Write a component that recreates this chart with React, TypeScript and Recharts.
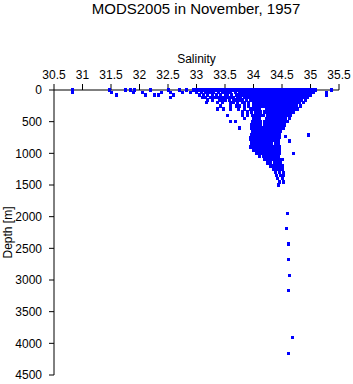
import React from 'react';
import { Scatter, ScatterChart, XAxis, YAxis } from 'recharts';

const TITLE = 'MODS2005 in November, 1957';

const SALINITY_TICKS = [30.5, 31, 31.5, 32, 32.5, 33, 33.5, 34, 34.5, 35, 35.5];
const DEPTH_TICKS = [0, 500, 1000, 1500, 2000, 2500, 3000, 3500, 4000, 4500];

// bottle depths of the upper cloud, one salinity list per depth
const DEPTH_LEVELS = [
  0, 40, 80, 120, 160, 200, 250, 300, 350, 400, 450, 500, 550, 600, 650, 700,
  750, 800, 850, 900, 950, 1000, 1050, 1100, 1150, 1200, 1250, 1300, 1350,
  1400, 1450, 1500,
];

const SALINITY_ROWS = [
  [30.82, 31.48, 31.75, 31.85, 31.92, 32.2, 32.51, 32.71, 32.83, 32.95, 33.0, 33.05, 33.1, 33.15, 33.2, 33.25, 33.3, 33.35, 33.4, 33.45, 33.5, 33.55, 33.6, 33.65, 33.7, 33.75, 33.8, 33.85, 33.9, 33.95, 34.0, 34.05, 34.1, 34.15, 34.2, 34.25, 34.3, 34.35, 34.4, 34.45, 34.5, 34.55, 34.6, 34.65, 34.7, 34.75, 34.8, 34.85, 34.9, 34.95, 35.0, 35.05, 35.08, 35.36],
  [30.82, 31.5, 31.9, 32.06, 32.39, 32.55, 32.76, 32.9, 33.0, 33.08, 33.15, 33.2, 33.25, 33.3, 33.38, 33.45, 33.5, 33.55, 33.6, 33.68, 33.75, 33.8, 33.85, 33.9, 33.95, 34.0, 34.05, 34.1, 34.15, 34.2, 34.25, 34.3, 34.35, 34.4, 34.45, 34.5, 34.55, 34.6, 34.65, 34.7, 34.75, 34.8, 34.85, 34.9, 34.95, 35.0, 35.05, 35.28],
  [31.6, 32.1, 32.27, 32.33, 32.6, 33.05, 33.12, 33.2, 33.28, 33.35, 33.42, 33.5, 33.55, 33.62, 33.7, 33.75, 33.8, 33.85, 33.9, 33.95, 34.0, 34.05, 34.1, 34.15, 34.2, 34.25, 34.3, 34.35, 34.4, 34.45, 34.5, 34.55, 34.6, 34.65, 34.7, 34.75, 34.8, 34.85, 34.9, 34.95, 35.0, 35.28],
  [32.55, 33.1, 33.15, 33.25, 33.3, 33.35, 33.4, 33.45, 33.5, 33.55, 33.6, 33.65, 33.72, 33.78, 33.85, 33.9, 33.95, 34.0, 34.05, 34.1, 34.15, 34.2, 34.25, 34.3, 34.35, 34.4, 34.45, 34.5, 34.55, 34.6, 34.65, 34.7, 34.75, 34.8, 34.85, 34.9, 34.95],
  [33.2, 33.28, 33.4, 33.45, 33.5, 33.58, 33.65, 33.7, 33.75, 33.8, 33.88, 33.95, 34.0, 34.05, 34.1, 34.15, 34.2, 34.25, 34.3, 34.35, 34.4, 34.45, 34.5, 34.55, 34.6, 34.65, 34.7, 34.75, 34.8, 34.85, 34.92],
  [33.17, 33.36, 33.45, 33.6, 33.65, 33.72, 33.8, 33.85, 33.92, 34.0, 34.05, 34.1, 34.15, 34.2, 34.25, 34.3, 34.35, 34.4, 34.45, 34.5, 34.55, 34.6, 34.65, 34.7, 34.75, 34.8, 34.87],
  [33.42, 33.6, 33.7, 33.75, 33.85, 33.92, 34.0, 34.05, 34.1, 34.15, 34.2, 34.25, 34.3, 34.35, 34.4, 34.45, 34.5, 34.55, 34.6, 34.65, 34.7, 34.75, 34.82],
  [33.36, 33.48, 33.59, 33.73, 33.85, 33.94, 34.0, 34.05, 34.1, 34.22, 34.27, 34.32, 34.37, 34.42, 34.47, 34.52, 34.57, 34.62, 34.67, 34.72, 34.78],
  [33.8, 33.9, 33.97, 34.03, 34.08, 34.13, 34.2, 34.25, 34.3, 34.35, 34.4, 34.45, 34.5, 34.55, 34.6, 34.65, 34.7],
  [33.55, 33.8, 33.9, 33.98, 34.03, 34.08, 34.13, 34.18, 34.25, 34.3, 34.35, 34.4, 34.45, 34.5, 34.55, 34.6, 34.65],
  [33.85, 34.0, 34.05, 34.1, 34.22, 34.27, 34.32, 34.37, 34.42, 34.47, 34.52, 34.57, 34.63],
  [33.59, 33.68, 33.98, 34.03, 34.08, 34.13, 34.19, 34.25, 34.3, 34.35, 34.4, 34.45, 34.5, 34.55, 34.6],
  [33.97, 34.02, 34.07, 34.12, 34.2, 34.25, 34.3, 34.35, 34.4, 34.45, 34.5, 34.55],
  [33.76, 33.97, 34.02, 34.07, 34.12, 34.17, 34.22, 34.27, 34.32, 34.37, 34.42, 34.47, 34.52],
  [33.98, 34.03, 34.08, 34.13, 34.18, 34.22, 34.27, 34.32, 34.37, 34.42, 34.47],
  [33.97, 34.02, 34.07, 34.12, 34.17, 34.22, 34.27, 34.32, 34.37, 34.42, 34.45],
  [33.94, 33.99, 34.04, 34.09, 34.14, 34.2, 34.25, 34.3, 34.35, 34.4, 34.46],
  [33.97, 34.02, 34.07, 34.12, 34.18, 34.23, 34.28, 34.33, 34.38, 34.43],
  [33.97, 34.02, 34.07, 34.12, 34.17, 34.22, 34.27, 34.32, 34.38, 34.43],
  [33.95, 34.0, 34.05, 34.1, 34.15, 34.2, 34.25, 34.3, 34.35, 34.4, 34.45],
  [34.0, 34.05, 34.1, 34.15, 34.2, 34.25, 34.3, 34.35, 34.4, 34.45],
  [34.05, 34.1, 34.15, 34.2, 34.25, 34.3, 34.35, 34.4, 34.45],
  [34.1, 34.18, 34.23, 34.28, 34.33, 34.38, 34.43],
  [34.2, 34.25, 34.3, 34.35, 34.4, 34.45, 34.5],
  [34.25, 34.3, 34.36, 34.42, 34.48],
  [34.3, 34.35, 34.4, 34.45, 34.5],
  [34.35, 34.4, 34.46, 34.5],
  [34.38, 34.45, 34.52],
  [34.4, 34.47, 34.52],
  [34.42, 34.5],
  [34.46, 34.52],
  [34.43],
];

// isolated casts below the main cloud
const EXTRA_SALINITY = [34.96, 34.57, 34.64, 34.7, 33.94, 34.6, 34.58, 34.61, 34.61, 34.63, 34.61, 34.68, 34.61];
const EXTRA_DEPTH = [710, 730, 805, 1000, 775, 1950, 2185, 2430, 2675, 2925, 3165, 3905, 4160];

const points = [
  ...DEPTH_LEVELS.flatMap((d, i) => SALINITY_ROWS[i].map((s) => ({ s, d }))),
  ...EXTRA_SALINITY.map((s, i) => ({ s, d: EXTRA_DEPTH[i] })),
];

const font = '"Liberation Sans", Arial, sans-serif';
const tick = { fill: '#000', fontSize: 12, fontFamily: font };

const Square = (props: any) => (
  <rect
    x={props.cx - 1.5}
    y={props.cy - 1.7}
    width={3}
    height={3.4}
    fill='#0000ff'
    shapeRendering='crispEdges'
  />
);

export default function App() {
  return (
    <div style={{ position: 'absolute', left: 0, top: 0, width: 353, height: 384, background: '#fff' }}>
      <div
        style={{
          position: 'absolute',
          left: 196,
          top: 0,
          transform: 'translateX(-50%)',
          whiteSpace: 'nowrap',
          fontFamily: font,
          fontSize: 15,
          color: '#000',
        }}
      >
        {TITLE}
      </div>
      <ScatterChart width={353} height={384} margin={{ top: 50, right: 14, bottom: 9, left: 0 }}>
        <XAxis
          type='number'
          dataKey='s'
          orientation='top'
          domain={[30.5, 35.5]}
          ticks={SALINITY_TICKS}
          interval={0}
          height={40}
          tick={tick}
          tickSize={6}
          tickMargin={5}
          stroke='#000'
          label={{ value: 'Salinity', position: 'insideTop', offset: 4, fill: '#000', fontSize: 12, fontFamily: font }}
        />
        <YAxis
          type='number'
          dataKey='d'
          reversed
          domain={[0, 4500]}
          ticks={DEPTH_TICKS}
          interval={0}
          width={54}
          tick={tick}
          tickSize={5}
          tickMargin={7}
          stroke='#000'
          label={{
            value: 'Depth [m]',
            angle: -90,
            position: 'insideLeft',
            offset: 8,
            fill: '#000',
            fontSize: 12,
            fontFamily: font,
            style: { textAnchor: 'middle' },
          }}
        />
        <Scatter data={points} shape={Square} isAnimationActive={false} />
      </ScatterChart>
    </div>
  );
}
